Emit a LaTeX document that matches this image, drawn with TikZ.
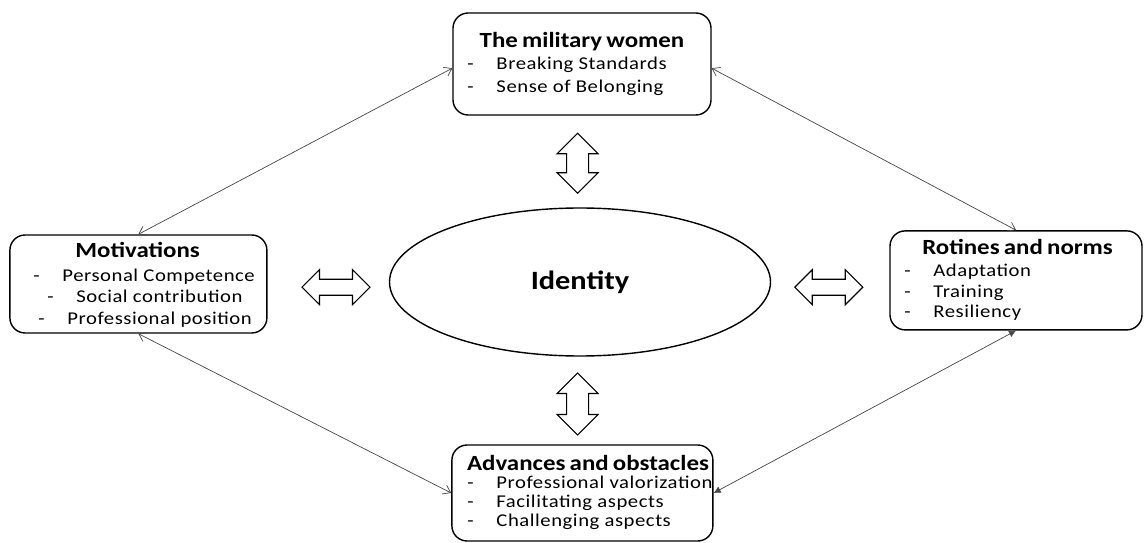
\documentclass[tikz,border=0pt]{standalone}
\usepackage{fontspec}
\setmainfont{Carlito}[FakeStretch=1.15]
\newfontfamily\titlefont{Carlito}[FakeStretch=1.15,WordSpace=0.75]
\newfontfamily\itemfont{Carlito}[FakeStretch=1.15,LetterSpace=3]
\usetikzlibrary{arrows.meta,shapes.geometric}
\definecolor{linkgray}{RGB}{70,70,70}
\newcommand{\itm}[1]{\makebox[0.73cm][l]{-}#1}
\newcommand{\BlockArrow}[5]{%
  \begin{scope}[shift={#1},rotate=#2]
    \draw[line width=0.8pt,fill=white,line join=miter]
      (-#3/2,0) -- (-#3/2+#4/2,#4/2) -- (-#3/2+#4/2,#5/2) -- (#3/2-#4/2,#5/2)
      -- (#3/2-#4/2,#4/2) -- (#3/2,0) -- (#3/2-#4/2,-#4/2) -- (#3/2-#4/2,-#5/2)
      -- (-#3/2+#4/2,-#5/2) -- (-#3/2+#4/2,-#4/2) -- cycle;
  \end{scope}}
\tikzstyle{box}=[draw, line width=1pt, rounded corners=0.38cm, inner sep=0pt]
\tikzstyle{title}=[anchor=base, font=\titlefont\fontsize{15.4}{17}\selectfont\bfseries]
\tikzstyle{item}=[anchor=base west, inner sep=0pt, font=\itemfont\fontsize{12.8}{14}\selectfont]
\tikzstyle{link}=[line width=0.5pt, color=linkgray]

\begin{document}
\begin{tikzpicture}
  \useasboundingbox (0,0) rectangle (28.6,-13.575);
  %% Boxes
  \draw (14.55,-1.6) node[box,minimum width=6.45cm,minimum height=2.55cm] (wom) {};
  \draw (3.46,-7.1) node[box,minimum width=6.425cm,minimum height=2.45cm] (mot) {};
  \draw (25.4,-7.01) node[box,minimum width=6.3cm,minimum height=2.475cm] (rot) {};
  \draw (14.56,-12.325) node[box,minimum width=6.525cm,minimum height=2.4cm] (adv) {};
  \draw (14.5,-7.05) node[draw,ellipse,line width=1pt,minimum width=9.525cm,minimum height=3.7cm,
    font=\fontsize{18.8}{20}\selectfont\bfseries] (ide) {Identity};

  %% Box texts
  \draw (14.55,-1.2) node[title] (womT) {The military women};
  \draw (11.675,-1.75) node[item] (wom1) {\itm{Breaking Standards}};
  \draw (11.675,-2.325) node[item] (wom2) {\itm{Sense of Belonging}};

  \draw (3.44,-6.45) node[title] (motT) {Motivations};
  \draw (0.825,-7.05) node[item] (mot1) {\itm{Personal Competence}};
  \draw (1.175,-7.575) node[item] (mot2) {\itm{Social contribution}};
  \draw (0.95,-8.125) node[item] (mot3) {\itm{Professional position}};

  \draw (25.44,-6.375) node[title] (rotT) {Rotines and norms};
  \draw (22.6,-6.925) node[item] (rot1) {\itm{Adaptation}};
  \draw (22.6,-7.45) node[item] (rot2) {\itm{Training}};
  \draw (22.6,-7.95) node[item] (rot3) {\itm{Resiliency}};

  \draw (14.7,-11.75) node[title] (advT) {Advances and obstacles};
  \draw (11.675,-12.2) node[item] (adv1) {\itm{Professional valorization}};
  \draw (11.675,-12.675) node[item] (adv2) {\itm{Facilitating aspects}};
  \draw (11.675,-13.15) node[item] (adv3) {\itm{Challenging aspects}};

  %% Block arrows
  \BlockArrow{(14.44,-4.08)}{90}{1.5}{1.025}{0.55}
  \BlockArrow{(14.44,-10.1)}{90}{1.55}{1.025}{0.55}
  \BlockArrow{(8.4,-7.18)}{0}{1.7}{0.875}{0.4}
  \BlockArrow{(20.72,-7.18)}{0}{1.7}{0.875}{0.4}

  %% Links
  \draw[link,{Straight Barb[length=5pt,width=7pt]}-{Straight Barb[length=5pt,width=7pt]}] ([yshift=-3pt]wom.west) -- (mot.north);
  \draw[link,{Straight Barb[length=5pt,width=7pt]}-{Straight Barb[length=5pt,width=7pt]}] ([yshift=-3pt]wom.east) -- (rot.north);
  \draw[link,{Straight Barb[length=5pt,width=7pt]}-{Straight Barb[length=5pt,width=7pt]}] (mot.south) -- (adv.west);
  \draw[link,{Latex[length=5pt,width=5pt]}-{Latex[length=5pt,width=5pt]}] (rot.south) -- (adv.east);
\end{tikzpicture}
\end{document}
